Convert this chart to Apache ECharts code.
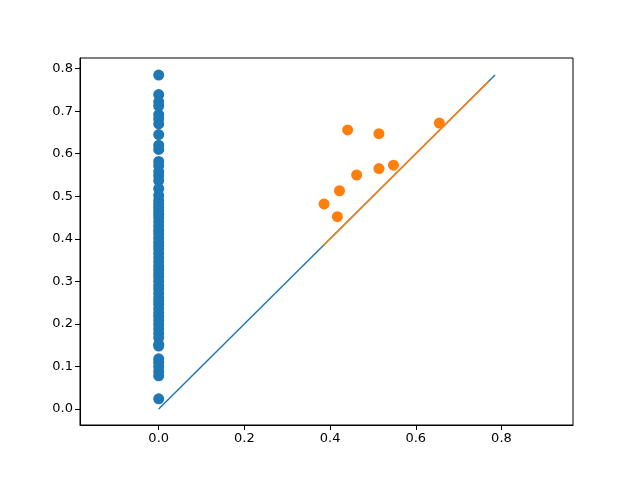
<!DOCTYPE html>
<html><head><meta charset="utf-8">
<script src="https://cdn.jsdelivr.net/npm/echarts@6/dist/echarts.min.js"></script>
<style>html,body{margin:0;padding:0;background:#fff}#c{width:637px;height:478px}</style>
</head><body><div id="c"></div>
<script>
const blueY = [0.785,0.739,0.722,0.712,0.692,0.682,0.670,0.645,0.620,0.610,0.582,0.572,0.558,0.548,0.537,0.518,0.502,0.490,0.482,0.474,0.466,0.458,0.450,0.440,0.430,0.420,0.412,0.402,0.392,0.384,0.376,0.366,0.356,0.346,0.336,0.328,0.318,0.310,0.300,0.290,0.282,0.272,0.262,0.254,0.246,0.236,0.226,0.218,0.208,0.198,0.188,0.178,0.168,0.152,0.148,0.118,0.110,0.100,0.088,0.078,0.024];
const orangeX = [0.441,0.514,0.655,0.462,0.514,0.548,0.422,0.386,0.417];
const orangeY = [0.656,0.647,0.672,0.550,0.565,0.573,0.513,0.482,0.452];
const blueLine = [0, 0.785];
const orangeLine = [0.385, 0.770];
const xTicks = [0.0,0.2,0.4,0.6,0.8];
const yTicks = [0.0,0.1,0.2,0.3,0.4,0.5,0.6,0.7,0.8];
const B='#1f77b4', O='#ff7f0e';
const ch = echarts.init(document.getElementById('c'));
function axis(min,max,ticks){
  return {type:'value',min:min,max:max,
    axisLine:{onZero:false,lineStyle:{color:'#000'}},
    axisTick:{length:5,lineStyle:{color:'#000'},customValues:ticks},
    splitLine:{show:false},
    axisLabel:{color:'#000',fontSize:13,fontFamily:'DejaVu Sans',margin:7,customValues:ticks,formatter:v=>v.toFixed(1)}};
}
ch.setOption({
  animation:false,
  grid:{left:80,right:64,top:58,bottom:53,show:true,borderColor:'#000',borderWidth:1},
  xAxis:axis(-0.1837,0.967,xTicks),
  yAxis:axis(-0.0376,0.825,yTicks),
  series:[
    {type:'line',data:blueLine.map(v=>[v,v]),symbol:'none',lineStyle:{color:B,width:1.5},z:1},
    {type:'line',data:orangeLine.map(v=>[v,v]),symbol:'none',lineStyle:{color:O,width:1.5},z:2},
    {type:'scatter',data:blueY.map(v=>[0,v]),symbolSize:11,itemStyle:{color:B,opacity:1},z:3},
    {type:'scatter',data:orangeX.map((x,i)=>[x,orangeY[i]]),symbolSize:11,itemStyle:{color:O,opacity:1},z:3}
  ]
});
</script></body></html>
